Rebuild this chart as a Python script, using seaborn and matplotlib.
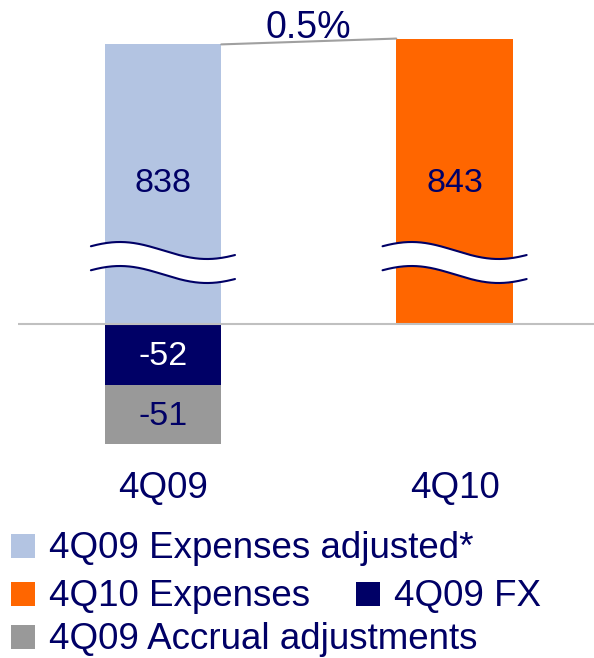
import numpy as np
import pandas as pd
import matplotlib
matplotlib.use("Agg")
import matplotlib.pyplot as plt
from matplotlib.patches import Rectangle
import seaborn as sns

# data
quarters = ["4Q09", "4Q10"]
expenses = [838, 843]
fx_4q09 = -52
accrual_4q09 = -51
change_label = "0.5%"
legend_labels = ["4Q09 Expenses adjusted*", "4Q10 Expenses", "4Q09 FX",
                 "4Q09 Accrual adjustments"]

LIGHT = "#B3C4E2"
ORANGE = "#FF6600"
NAVY = "#000066"
GREY = "#999999"

# broken y axis: values above CUT+GAP are shifted down by GAP
GAP = 598.0
CUT = 100.0


def fwd(v):
    v = np.asarray(v, dtype=float)
    return np.where(v > CUT + GAP, v - GAP, np.minimum(v, CUT))


def inv(y):
    y = np.asarray(y, dtype=float)
    return np.where(y > CUT, y + GAP, y)


sns.set_style("white")
plt.rcParams["font.family"] = ["Liberation Sans", "DejaVu Sans"]

W, H = 594, 658
fig = plt.figure(figsize=(W / 100, H / 100), dpi=100)
ax = fig.add_axes([18 / W, 1 - 460 / H, 1 - 18 / W, 460 / H])
ax.set_yscale("function", functions=(fwd, inv))

df = pd.DataFrame({"quarter": quarters, "value": expenses})
sns.barplot(data=df, x="quarter", y="value", hue="quarter", palette=[LIGHT, ORANGE],
            order=quarters, width=0.4, saturation=1, errorbar=None, legend=False,
            linewidth=0, ax=ax, zorder=2)
# stacked negative parts of 4Q09 (grey drawn to full depth, navy on top)
sns.barplot(x=[quarters[0]], y=[fx_4q09 + accrual_4q09], order=quarters, color=GREY,
            width=0.4, saturation=1, errorbar=None, linewidth=0, ax=ax, zorder=2)
sns.barplot(x=[quarters[0]], y=[fx_4q09], order=quarters, color=NAVY,
            width=0.4, saturation=1, errorbar=None, linewidth=0, ax=ax, zorder=2)

ax.axhline(0, color="#C0C0C0", lw=1.5, zorder=3)

# connector between bar tops
ax.plot([0.2, 0.8], expenses, color="#A0A0A0", lw=1.5, zorder=3)
ax.annotate(change_label, xy=(0.5, np.mean(expenses)), xytext=(0, 3 * 0.72),
            textcoords="offset points", ha="center", va="baseline",
            fontsize=27, color=NAVY)

# axis break waves
dx = np.linspace(-72, 72, 200)
for i in range(2):
    xs = i + dx / 291.5
    top = 63.1 + 7.3 * np.cos(np.pi * (dx + 43) / 87)
    bot = 42.5 + 7.3 * np.cos(np.pi * (dx + 43) / 87)
    ax.fill_between(xs, bot, top, color="white", lw=0, zorder=4)
    ax.plot(xs, top, color=NAVY, lw=1.5, zorder=5)
    ax.plot(xs, bot, color=NAVY, lw=1.5, zorder=5)

# value labels
for i, v in enumerate(expenses):
    ax.annotate(str(v), xy=(i, 0), xytext=(0, 132 * 0.72), textcoords="offset points",
                ha="center", va="baseline", fontsize=24.5, color=NAVY, zorder=6)
ax.annotate(str(fx_4q09), xy=(0, fx_4q09 / 2), xytext=(0, -11 * 0.72),
            textcoords="offset points", ha="center", va="baseline", fontsize=24.5,
            color="white", zorder=6)
ax.annotate(str(accrual_4q09), xy=(0, fx_4q09 + accrual_4q09 / 2), xytext=(0, -11 * 0.72),
            textcoords="offset points", ha="center", va="baseline", fontsize=24.5,
            color=NAVY, zorder=6)

# category labels
for i, q in enumerate(quarters):
    ax.annotate(q, xy=(i, 0), xycoords=("data", "axes fraction"), xytext=(0, -38 * 0.72),
                textcoords="offset points", ha="center", va="baseline", fontsize=26.5,
                color=NAVY, annotation_clip=False)

ax.set_xlim(-0.497, 1.478)
ax.set_ylim(-116.7, float(inv(278.1)))
ax.set_xticks([])
ax.set_yticks([])
ax.set_xlabel("")
ax.set_ylabel("")
sns.despine(ax=ax, left=True, bottom=True)

# legend drawn by hand: (label, colour, square x, square top)
legend_items = [
    (legend_labels[0], LIGHT, 11, 534),
    (legend_labels[1], ORANGE, 11, 582),
    (legend_labels[2], NAVY, 356, 582),
    (legend_labels[3], GREY, 11, 625),
]
for label, col, sx, sy in legend_items:
    fig.add_artist(Rectangle((sx / W, 1 - (sy + 24) / H), 24 / W, 24 / H,
                             transform=fig.transFigure, color=col, lw=0))
    fig.text((sx + 38) / W, 1 - (sy + 24) / H, label, ha="left", va="baseline",
             fontsize=26.5, color=NAVY)

fig.savefig("out.png", dpi=100)
